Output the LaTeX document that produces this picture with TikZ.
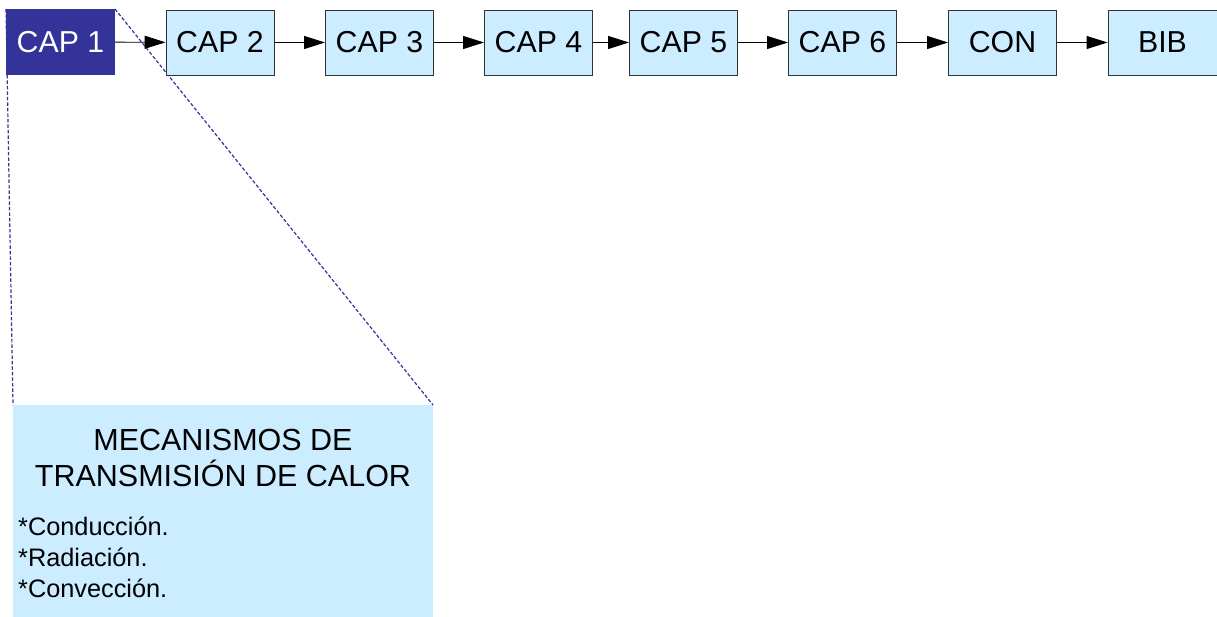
\documentclass[tikz,border=0pt]{standalone}
\usepackage{fontspec}
\setmainfont{Liberation Sans}
\usetikzlibrary{arrows.meta}
\definecolor{capfill}{RGB}{204,236,255}
\definecolor{capdark}{RGB}{51,51,153}
\definecolor{capedge}{RGB}{50,50,50}
\tikzset{
  capbox/.style={draw=capedge, line width=0.9bp, fill=capfill, minimum width=108bp, minimum height=65bp, inner sep=0pt, font=\fontsize{30.4}{30.4}\selectfont},
  capfirst/.style={fill=capdark, text=white, minimum width=109bp, minimum height=66bp, inner sep=0pt, font=\fontsize{30.4}{30.4}\selectfont},
  flow/.style={line width=0.9bp, -{Triangle[length=21bp, width=13bp]}},
  zoomline/.style={draw=capdark, line width=1.2bp, dash pattern=on 3.5bp off 2bp}
}
\begin{document}
\begin{tikzpicture}[x=1bp, y=-1bp]
\useasboundingbox (0,0) rectangle (1217,617);
% detail box
\node[fill=capfill, minimum width=420bp, minimum height=212bp, inner sep=0pt] (detail) at (223,511) {};
\coordinate (dl) at (13,405);
\coordinate (dr) at (433,405);
% zoom lines (drawn behind CAP 1)
\coordinate (c1l) at (6,9);
\coordinate (c1r) at (115,9);
\draw[zoomline] (c1l) -- (dl);
\draw[zoomline] (c1r) -- (dr);
% chain
\node[capfirst] (cap1) at (60.5,42) {CAP 1};
\node[capbox] (cap2) at (220,42.5) {CAP 2};
\node[capbox] (cap3) at (379.5,42.5) {CAP 3};
\node[capbox] (cap4) at (538.5,42.5) {CAP 4};
\node[capbox] (cap5) at (683.5,42.5) {CAP 5};
\node[capbox] (cap6) at (842.5,42.5) {CAP 6};
\node[capbox] (con) at (1002.5,42.5) {CON};
\node[capbox, minimum width=109bp] (bib) at (1162.5,42.5) {BIB};
\draw[flow] (cap1) -- (cap2);
\draw[flow] (cap2) -- (cap3);
\draw[flow] (cap3) -- (cap4);
\draw[flow] (cap4) -- (cap5);
\draw[flow] (cap5) -- (cap6);
\draw[flow] (cap6) -- (con);
\draw[flow] (con) -- (bib);
% detail text
\node[align=center, inner sep=0pt, font=\fontsize{30.6}{36}\selectfont] (head) at (223,458) {MECANISMOS DE\\TRANSMISIÓN DE CALOR};
\node[align=left, anchor=north west, inner sep=0pt, font=\fontsize{25.4}{31}\selectfont] (items) at (18,517) {*Conducción.\\*Radiación.\\*Convección.};
\end{tikzpicture}
\end{document}
